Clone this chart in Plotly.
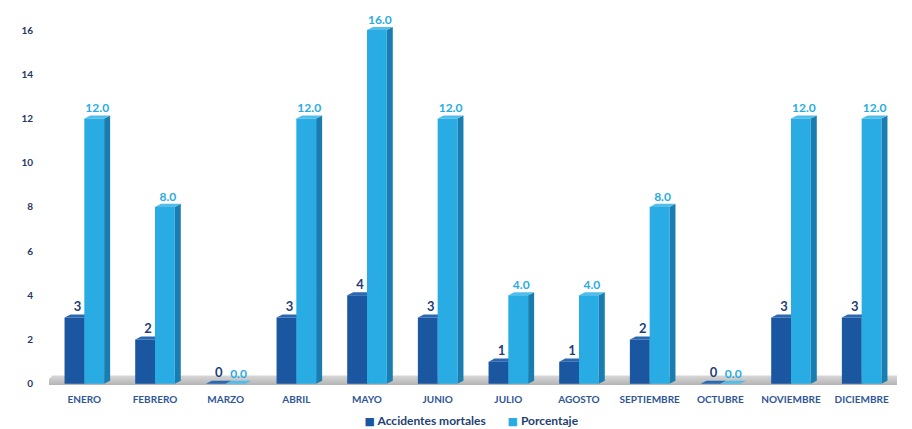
import plotly.graph_objects as go

meses = ["ENERO", "FEBRERO", "MARZO", "ABRIL", "MAYO", "JUNIO", "JULIO",
         "AGOSTO", "SEPTIEMBRE", "OCTUBRE", "NOVIEMBRE", "DICIEMBRE"]
accidentes = [3, 2, 0, 3, 4, 3, 1, 1, 2, 0, 3, 3]
porcentaje = [12.0, 8.0, 0.0, 12.0, 16.0, 12.0, 4.0, 4.0, 8.0, 0.0, 12.0, 12.0]
y_ticks = [0, 2, 4, 6, 8, 10, 12, 14, 16]
series_names = ["Accidentes mortales", "Porcentaje"]

# style / geometry
W = 0.28      # bar width (category units)
D = 0.085     # depth offset x
H = 0.14      # depth rise y
DARK = "#1b56a0"
DARK_TOP = "#2a68b2"
DARK_SIDE = "#123f75"
LIGHT = "#29abe3"
LIGHT_TOP = "#52bde9"
LIGHT_SIDE = "#1a7db0"
FONT = "Lato"

idx = list(range(len(meses)))


def polys(points_list):
    xs, ys = [], []
    for pts in points_list:
        for (px, py) in pts:
            xs.append(px)
            ys.append(py)
        xs.append(pts[0][0])
        ys.append(pts[0][1])
        xs.append(None)
        ys.append(None)
    return xs, ys


def front(x0, vals):
    return [[(i + x0, 0), (i + x0 + W, 0), (i + x0 + W, v), (i + x0, v)]
            for i, v in zip(idx, vals)]


def top(x0, vals):
    return [[(i + x0, v), (i + x0 + W, v), (i + x0 + W + D, v + H), (i + x0 + D, v + H)]
            for i, v in zip(idx, vals)]


def side(x0, vals):
    return [[(i + x0 + W, 0), (i + x0 + W + D, H), (i + x0 + W + D, v + H), (i + x0 + W, v)]
            for i, v in zip(idx, vals)]


def poly_trace(pts, color):
    xs, ys = polys(pts)
    return go.Scatter(x=xs, y=ys, mode="lines", fill="toself", fillcolor=color,
                      line=dict(width=0, color=color), hoverinfo="skip",
                      showlegend=False)


fig = go.Figure()

x_lo, x_hi = -0.5, len(meses) - 0.5
# floor (gradient grey slab)
fig.add_trace(go.Scatter(
    x=[x_lo - 0.08, x_hi + 0.05, x_hi + 0.12, x_lo + 0.05, x_lo - 0.08],
    y=[-0.05, -0.05, 0.38, 0.38, -0.05],
    mode="lines", fill="toself", line=dict(width=0, color="#c8c8c8"),
    fillgradient=dict(type="vertical", colorscale=[[0, "#b4b4b4"], [1, "#d8d8d8"]]),
    hoverinfo="skip", showlegend=False))

dx = -W  # dark bar offset
lx = 0.0  # light bar offset

fig.add_trace(poly_trace(side(dx, accidentes), DARK_SIDE))
fig.add_trace(poly_trace(top(dx, accidentes), DARK_TOP))
fig.add_trace(poly_trace(front(dx, accidentes), DARK))
fig.add_trace(poly_trace(side(lx, porcentaje), LIGHT_SIDE))
fig.add_trace(poly_trace(top(lx, porcentaje), LIGHT_TOP))
fig.add_trace(poly_trace(front(lx, porcentaje), LIGHT))

# value labels
fig.add_trace(go.Scatter(
    x=[i + dx + W / 2 + D / 2 for i in idx], y=[v + H for v in accidentes],
    mode="text", text=[str(v) for v in accidentes], textposition="top center",
    textfont=dict(family=FONT, size=13, color="#1f3f77", weight="bold"),
    showlegend=False, hoverinfo="skip"))
fig.add_trace(go.Scatter(
    x=[i + lx + W / 2 + D / 2 for i in idx], y=[v + H for v in porcentaje],
    mode="text", text=[f"{v:.1f}" for v in porcentaje], textposition="top center",
    textfont=dict(family=FONT, size=12, color="#29abe2", weight="bold"),
    showlegend=False, hoverinfo="skip"))

# legend entries (square glyph placed tight to the text, as in the original)
for nm, col in zip(series_names, [DARK, LIGHT]):
    fig.add_trace(go.Scatter(
        x=[None], y=[None], mode="markers",
        name=f'<span style="color:{col};font-family:DejaVu Sans;font-size:11px">■</span> {nm}',
        marker=dict(symbol="square", size=9, color="rgba(0,0,0,0)")))

# page body has an 8px default margin, so the figure is sized to fit the window
fig.update_layout(
    width=904, height=421,
    margin=dict(l=41, r=15, t=0, b=43, autoexpand=False),
    paper_bgcolor="white", plot_bgcolor="white",
    showlegend=True,
    legend=dict(orientation="h", x=0.325, xanchor="left", y=-0.092, yanchor="middle",
                font=dict(family=FONT, size=12, color="#1f3f77", weight="bold"),
                itemwidth=30, entrywidth=98, tracegroupgap=0,
                bgcolor="rgba(0,0,0,0)"),
    xaxis=dict(range=[x_lo, x_hi], tickvals=idx, ticktext=meses,
               showgrid=False, zeroline=False, showline=False, automargin=False,
               ticks="outside", ticklen=4, tickcolor="rgba(0,0,0,0)",
               tickfont=dict(family=FONT, size=10, color="#2f5597", weight="bold")),
    yaxis=dict(range=[-0.1, 17], tickvals=y_ticks, ticktext=[str(t) for t in y_ticks],
               showgrid=False, zeroline=False, showline=False, automargin=False,
               ticks="outside", ticklen=13, tickcolor="rgba(0,0,0,0)",
               tickfont=dict(family=FONT, size=10, color="#1f3864", weight="bold")),
)

fig.write_html("out.html")
